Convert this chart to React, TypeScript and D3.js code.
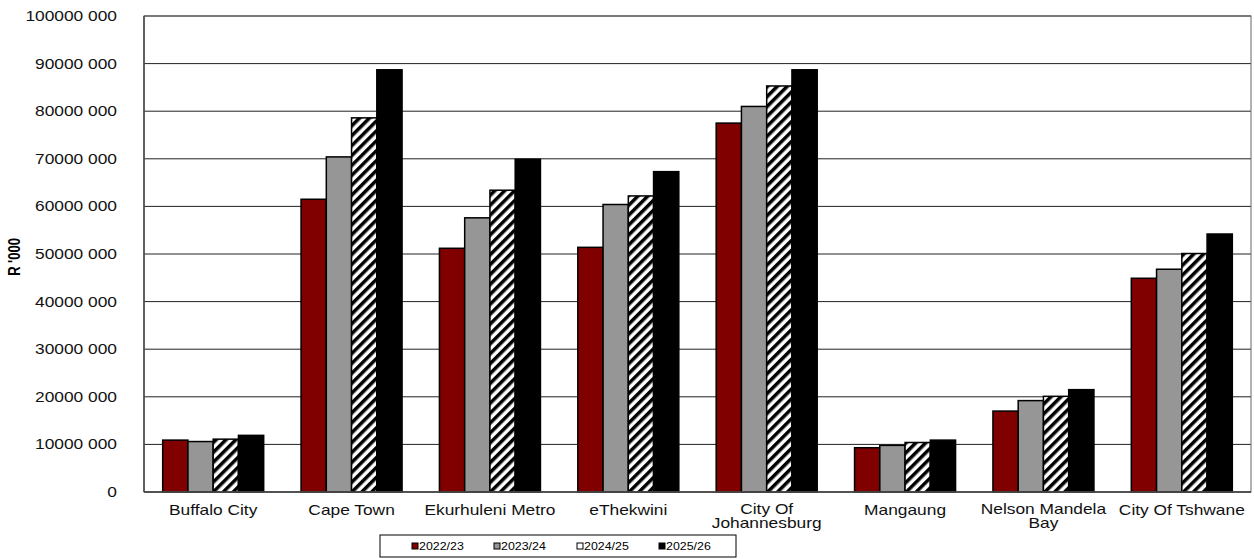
import React from "react";
import * as d3 from "d3";

const categories = [
  ["Buffalo City"],
  ["Cape Town"],
  ["Ekurhuleni Metro"],
  ["eThekwini"],
  ["City Of", "Johannesburg"],
  ["Mangaung"],
  ["Nelson Mandela", "Bay"],
  ["City Of Tshwane"],
];
const seriesNames = ["2022/23", "2023/24", "2024/25", "2025/26"];
const v2022 = [10.9, 61.5, 51.2, 51.4, 77.5, 9.3, 17.0, 44.9];
const v2023 = [10.6, 70.4, 57.6, 60.4, 81.0, 9.8, 19.2, 46.8];
const v2024 = [11.1, 78.6, 63.4, 62.2, 85.3, 10.4, 20.1, 50.1];
const v2025 = [11.9, 88.7, 69.9, 67.3, 88.7, 10.9, 21.5, 54.2];
const seriesValues = [v2022, v2023, v2024, v2025];
const yTicks = [0, 10, 20, 30, 40, 50, 60, 70, 80, 90, 100];

const fills = ["#800000", "#969696", "url(#hatch)", "#000000"];

function fmt(m: number) {
  if (m === 0) return "0";
  return `${m}000 000`;
}

const SX = 1.24;

export default function App() {
  const W = 1254, H = 559;
  const L = 144, R = 1251, T = 16, B = 492;
  const y = d3.scaleLinear().domain([0, 100]).range([B, T]);
  const x0 = d3.scaleBand<number>().domain(categories.map((_, i) => i)).range([L, R]).paddingInner(0.27).paddingOuter(0.135);
  const x1 = d3.scaleBand<number>().domain(seriesNames.map((_, i) => i)).range([0, x0.bandwidth()]);
  const font = "'Liberation Sans', Arial, sans-serif";
  const legendX = [412, 494, 577, 659];
  return (
    <svg width={W} height={H} style={{ position: "absolute", left: 0, top: 0 }} fontFamily={font}>
      <defs>
        <pattern id="hatch" patternUnits="userSpaceOnUse" width="7" height="7" patternTransform="rotate(45)">
          <rect width="7" height="7" fill="#fff" />
          <rect x="0" y="0" width="3.5" height="7" fill="#000" />
        </pattern>
      </defs>
      <rect x={0} y={0} width={W} height={H} fill="#fff" />
      {yTicks.map((t) => (
        <g key={t}>
          <line x1={L} x2={R} y1={y(t)} y2={y(t)} stroke="#222" strokeWidth={1} />
          <text transform={`translate(117,${y(t) + 5}) scale(${SX},1)`} textAnchor="end" fontSize={14} fill="#111">{fmt(t)}</text>
        </g>
      ))}
      {categories.map((c, i) =>
        seriesValues.map((vals, s) => (
          <rect key={`${i}-${s}`} x={(x0(i) as number) + (x1(s) as number)} y={y(vals[i])}
            width={x1.bandwidth()} height={B - y(vals[i])} fill={fills[s]} stroke="#000" strokeWidth={1.5} />
        ))
      )}
      <rect x={L} y={T} width={R - L} height={B - T} fill="none" stroke="#666" strokeWidth={1} />
      <line x1={L} x2={L} y1={T} y2={B} stroke="#444" strokeWidth={1.5} />
      <line x1={L} x2={R} y1={B} y2={B} stroke="#444" strokeWidth={1.5} />
      {categories.map((c, i) => {
        const cx = (x0(i) as number) + x0.bandwidth() / 2;
        const base = c.length > 1 ? 513.5 : 515;
        return c.map((line, k) => (
          <text key={`${i}-${k}`} transform={`translate(${cx},${base + k * 14}) scale(${SX},1)`} textAnchor="middle" fontSize={14} fill="#111">{line}</text>
        ));
      })}
      <text transform="translate(20,257) rotate(-90) scale(1,1.24)" textAnchor="middle" fontSize={13} fontWeight="bold">R '000</text>
      <rect x={380} y={535} width={356} height={22} fill="#fff" stroke="#000" strokeWidth={1} />
      {seriesNames.map((n, s) => (
        <g key={n}>
          <rect x={legendX[s]} y={543} width={6} height={6} fill={s === 2 ? "#fff" : fills[s]} stroke="#000" strokeWidth={1} />
          <text transform={`translate(${legendX[s] + 7},550) scale(${SX},1)`} fontSize={10}>{n}</text>
        </g>
      ))}
    </svg>
  );
}
